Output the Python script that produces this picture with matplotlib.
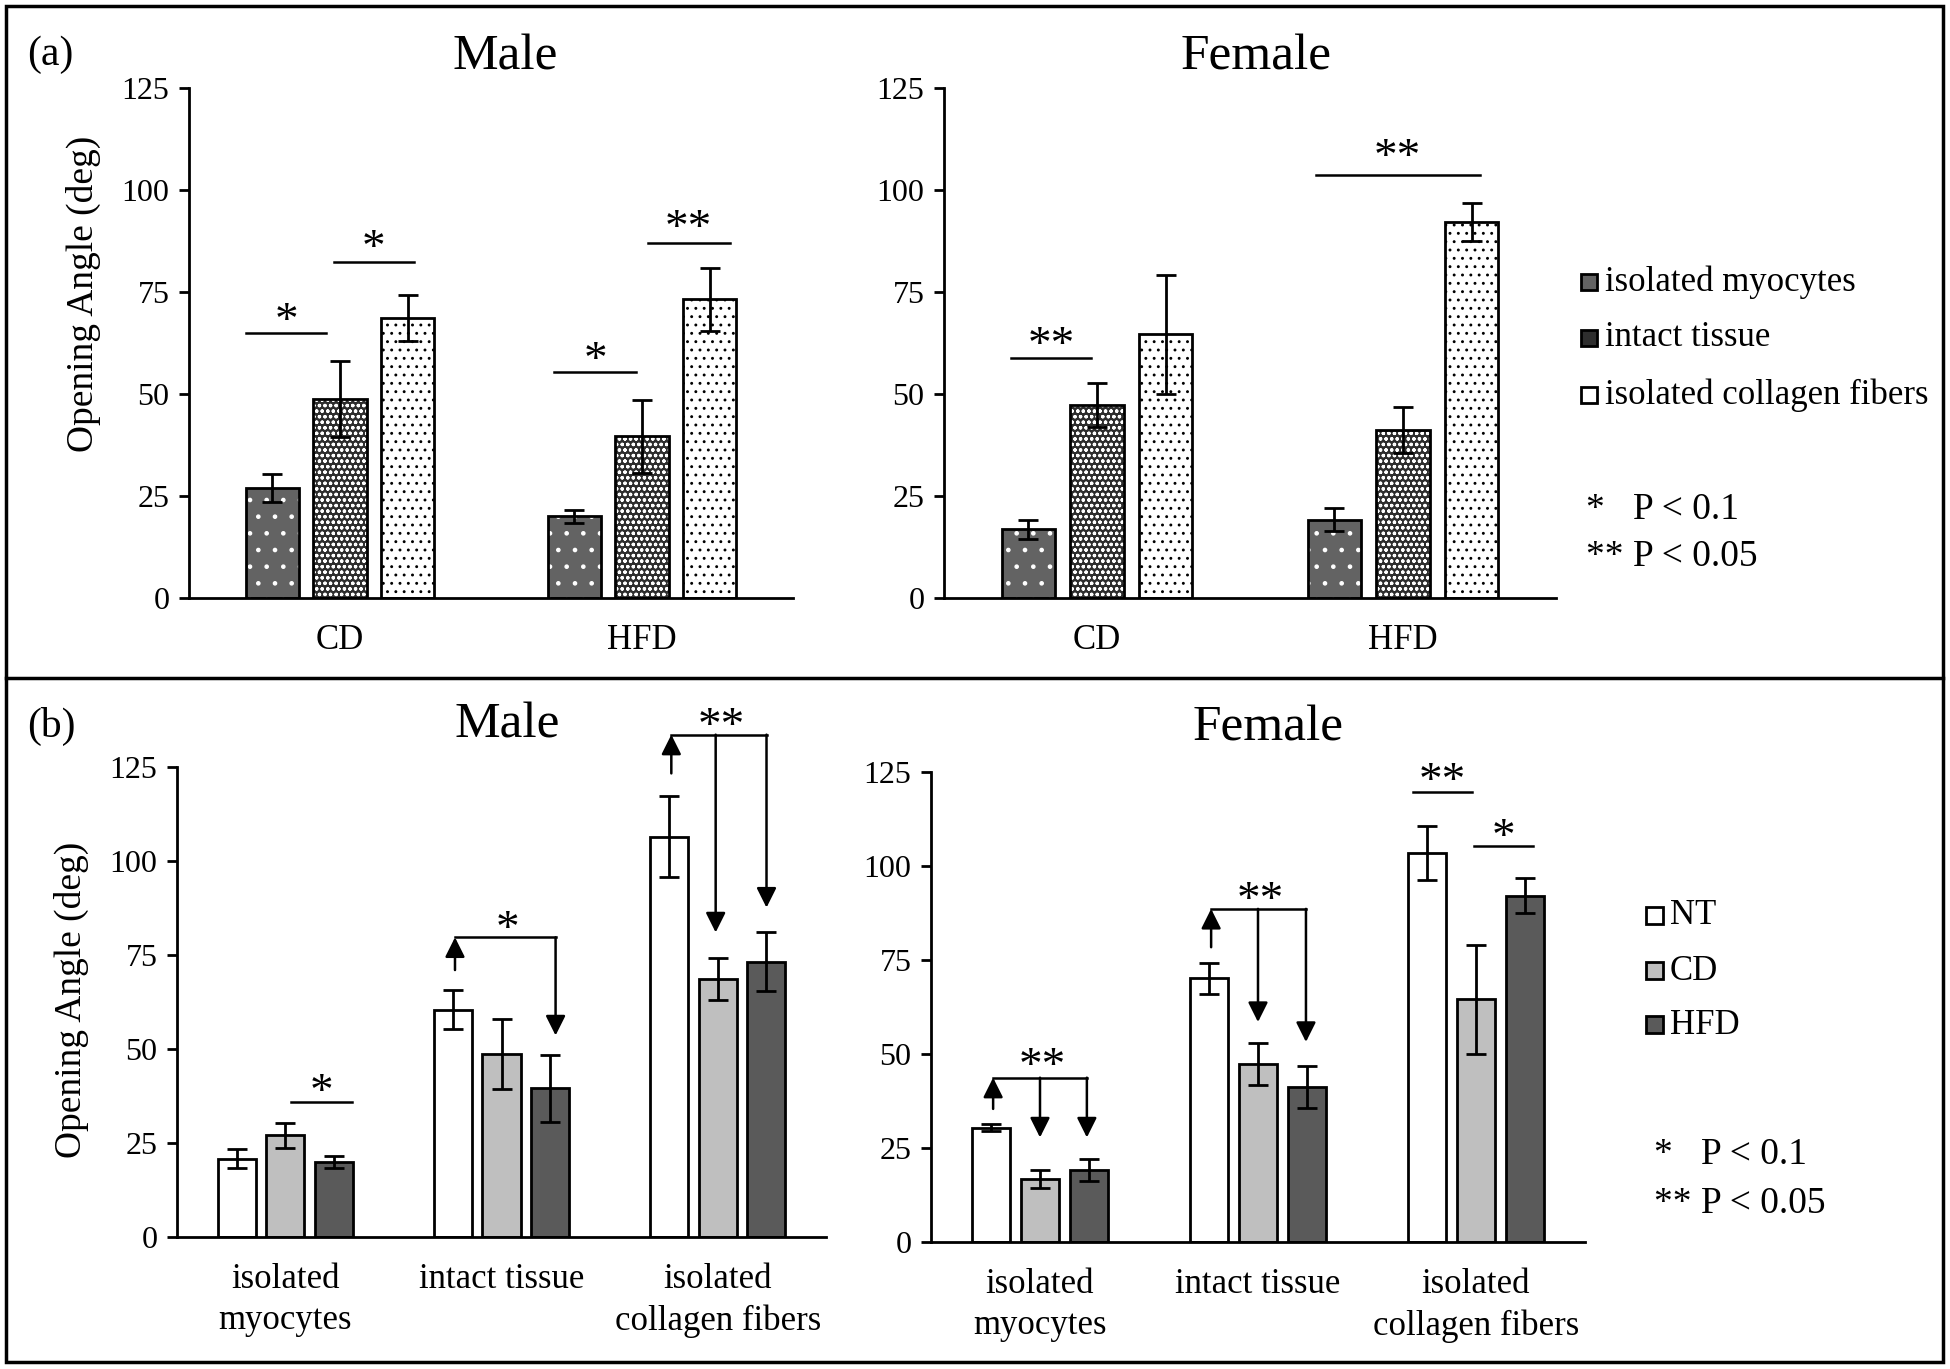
import matplotlib
matplotlib.use('Agg')
import matplotlib.pyplot as plt
from matplotlib.patches import Rectangle
from matplotlib.lines import Line2D
import numpy as np

plt.rcParams['font.family'] = ['Liberation Serif', 'DejaVu Serif']
plt.rcParams['hatch.linewidth'] = 0.9

W, H = 1950, 1369

# (a) values per diet group: CD, HFD
diets = ['CD', 'HFD']
tissue_names = ['isolated myocytes', 'intact tissue', 'isolated collagen fibers']
male_myocytes = [27.0, 20.0]
male_myocytes_err = [3.4, 1.6]
male_intact = [48.7, 39.6]
male_intact_err = [9.3, 8.9]
male_collagen = [68.6, 73.2]
male_collagen_err = [5.6, 7.8]
female_myocytes = [16.8, 19.2]
female_myocytes_err = [2.4, 2.9]
female_intact = [47.3, 41.2]
female_intact_err = [5.5, 5.6]
female_collagen = [64.6, 92.1]
female_collagen_err = [14.5, 4.6]

# (b) NT values per tissue: myocytes, intact, collagen
tissue_ticks = ['isolated\nmyocytes', 'intact tissue', 'isolated\ncollagen fibers']
groups_b = ['NT', 'CD', 'HFD']
male_nt = [20.8, 60.5, 106.5]
male_nt_err = [2.5, 5.1, 10.7]
female_nt = [30.4, 70.1, 103.5]
female_nt_err = [1.0, 4.1, 7.1]

fig = plt.figure(figsize=(W / 100, H / 100), dpi=100)


def add_axes_px(l, r, t, b):
    return fig.add_axes([l / W, 1 - b / H, (r - l) / W, (b - t) / H])


def fx(x):
    return x / W


def fy(y):
    return 1 - y / H


def style_axes(ax, n):
    ax.set_xlim(0, n)
    ax.set_ylim(0, 125)
    ax.set_yticks([0, 25, 50, 75, 100, 125])
    for s in ['top', 'right']:
        ax.spines[s].set_visible(False)
    for s in ['left', 'bottom']:
        ax.spines[s].set_linewidth(2)
    ax.tick_params(axis='y', length=7, width=2, labelsize=23, pad=7)
    ax.tick_params(axis='x', length=0, labelsize=25, pad=19)
    ax.set_xticks(np.arange(n) + 0.5)


# fill, hatch colour, hatch for each tissue in (a)
a_styles = [('#636363', 'white', '.'),
            ('#2e2e2e', 'white', 'ooo'),
            ('white', 'black', '..')]
b_colors = ['white', '#bfbfbf', '#5a5a5a']
offs = [-0.224, 0.0, 0.224]
bw = 0.176


def hatched_bar(ax, x, h, fc, hc, hatch, width=bw):
    ax.bar(x, h, width, color=fc, edgecolor='none', zorder=2)
    if hatch:
        ax.bar(x, h, width, color='none', edgecolor=hc, hatch=hatch, lw=0, zorder=3)
    ax.bar(x, h, width, color='none', edgecolor='black', lw=2, zorder=4)


def errbars(ax, x, h, e):
    ax.errorbar(x, h, yerr=e, fmt='none', ecolor='black', elinewidth=2,
                capsize=7, capthick=2, zorder=5)


def star(ax, x, y, label):
    ax.annotate(label, (x, y), xytext=(0, -7), textcoords='offset points',
                ha='center', va='center', fontsize=34, annotation_clip=False)


def sig_line(ax, x1, x2, y, label, ly):
    ax.plot([x1, x2], [y, y], color='black', lw=1.8, clip_on=False)
    star(ax, (x1 + x2) / 2, ly, label)


def arrow(ax, x, y0, y1):
    ax.annotate('', xy=(x, y1), xytext=(x, y0), annotation_clip=False,
                arrowprops=dict(arrowstyle='-|>', color='black', lw=1.8,
                                mutation_scale=30, shrinkA=0, shrinkB=0))


def sig_bracket(ax, g, up_from, y, down_to, label, ly, down_x):
    xu = g - 0.215
    arrow(ax, xu, up_from, y)
    xs = [g + d for d in down_x]
    ax.plot([xu, max(xs)], [y, y], color='black', lw=1.8, clip_on=False)
    for xd, yd in zip(xs, down_to):
        arrow(ax, xd, y, yd)
    star(ax, (xu + max(xs)) / 2 + 0.01, ly, label)


def panel_a(ax, means, errs):
    x = np.arange(len(diets)) + 0.5
    for i in range(3):
        fc, hc, hatch = a_styles[i]
        hatched_bar(ax, x + offs[i], means[i], fc, hc, hatch)
        errbars(ax, x + offs[i], means[i], errs[i])
    style_axes(ax, 2)
    ax.set_xticklabels(diets)


def panel_b(ax, nt, nt_err, cd, cd_err, hfd, hfd_err):
    x = np.arange(3) + 0.5
    for i, (m, e) in enumerate([(nt, nt_err), (cd, cd_err), (hfd, hfd_err)]):
        hatched_bar(ax, x + offs[i], m, b_colors[i], None, None)
        errbars(ax, x + offs[i], m, e)
    style_axes(ax, 3)
    ax.set_xticklabels(tissue_ticks, linespacing=1.3)


# ---- (a) ----
ax1 = add_axes_px(189, 793, 88, 598)
panel_a(ax1, [male_myocytes, male_intact, male_collagen],
        [male_myocytes_err, male_intact_err, male_collagen_err])
sig_line(ax1, 0.5 - 0.31, 0.5 - 0.045, 64.9, '*', 69.8)
sig_line(ax1, 0.5 - 0.02, 0.5 + 0.245, 82.3, '*', 87.8)
sig_line(ax1, 1.5 - 0.29, 1.5 - 0.02, 55.5, '*', 60.4)
sig_line(ax1, 1.5 + 0.02, 1.5 + 0.29, 86.9, '**', 92.7)

ax2 = add_axes_px(944, 1556, 88, 598)
panel_a(ax2, [female_myocytes, female_intact, female_collagen],
        [female_myocytes_err, female_intact_err, female_collagen_err])
sig_line(ax2, 0.5 - 0.28, 0.5 - 0.02, 58.8, '**', 64.0)
sig_line(ax2, 1.5 - 0.285, 1.5 + 0.25, 103.7, '**', 110.0)

# ---- (b) ----
ax3 = add_axes_px(177, 826, 767, 1237)
panel_b(ax3, male_nt, male_nt_err,
        [male_myocytes[0], male_intact[0], male_collagen[0]],
        [male_myocytes_err[0], male_intact_err[0], male_collagen_err[0]],
        [male_myocytes[1], male_intact[1], male_collagen[1]],
        [male_myocytes_err[1], male_intact_err[1], male_collagen_err[1]])
sig_line(ax3, 0.5 + 0.025, 0.5 + 0.31, 36.0, '*', 40.7)
sig_bracket(ax3, 1.5, 71.0, 79.7, [53.6], '*', 84.0, [0.25])
sig_bracket(ax3, 2.5, 123.3, 133.6, [81.0, 87.6], '**', 138.0, [-0.01, 0.225])

ax4 = add_axes_px(931, 1585, 772, 1242)
panel_b(ax4, female_nt, female_nt_err,
        [female_myocytes[0], female_intact[0], female_collagen[0]],
        [female_myocytes_err[0], female_intact_err[0], female_collagen_err[0]],
        [female_myocytes[1], female_intact[1], female_collagen[1]],
        [female_myocytes_err[1], female_intact_err[1], female_collagen_err[1]])
sig_bracket(ax4, 0.5, 35.4, 43.7, [27.8, 27.8], '**', 49.0, [0.0, 0.215])
sig_bracket(ax4, 1.5, 78.4, 88.6, [58.5, 53.2], '**', 93.0, [0.0, 0.22])
sig_line(ax4, 2.5 - 0.29, 2.5 - 0.02, 119.7, '**', 124.7)
sig_line(ax4, 2.5 - 0.01, 2.5 + 0.26, 105.2, '*', 109.8)

# ---- titles, labels ----
for x, y, t in [(505, 57, 'Male'), (1256, 57, 'Female'),
                (507, 725, 'Male'), (1268, 728, 'Female')]:
    fig.text(fx(x), fy(y), t, fontsize=37, ha='center', va='center')
fig.text(fx(27), fy(55), '(a)', fontsize=30, ha='left', va='center')
fig.text(fx(27), fy(726), '(b)', fontsize=30, ha='left', va='center')
fig.text(fx(83), fy(294), 'Opening Angle (deg)', fontsize=27, rotation=90,
         ha='center', va='center')
fig.text(fx(71), fy(1000), 'Opening Angle (deg)', fontsize=27, rotation=90,
         ha='center', va='center')

# ---- legends ----
for i, (y, name) in enumerate(zip([282, 338, 395], tissue_names)):
    fc, hc, hatch = a_styles[i]
    fig.patches.append(Rectangle((fx(1581), fy(y + 8)), 16 / W, 16 / H,
                                 transform=fig.transFigure, facecolor=fc,
                                 edgecolor='black', lw=2))
    fig.text(fx(1605), fy(y), name, fontsize=25, ha='left', va='center')
for i, (y, name) in enumerate(zip([916, 971, 1025], groups_b)):
    fig.patches.append(Rectangle((fx(1646), fy(y + 8)), 17 / W, 17 / H,
                                 transform=fig.transFigure,
                                 facecolor=b_colors[i], edgecolor='black', lw=2))
    fig.text(fx(1670), fy(y), name, fontsize=25, ha='left', va='center')

for x, ys in [(1586, (510, 557)), (1654, (1155, 1204))]:
    fig.text(fx(x), fy(ys[0]), '*   P < 0.1', fontsize=27, ha='left', va='center')
    fig.text(fx(x), fy(ys[1]), '** P < 0.05', fontsize=27, ha='left', va='center')

# ---- frame ----
fig.patches.append(Rectangle((fx(6), fy(1362)), (1943 - 6) / W, (1362 - 6) / H,
                             transform=fig.transFigure, fill=False,
                             edgecolor='black', lw=2.5))
fig.lines.append(Line2D([fx(6), fx(1943)], [fy(678), fy(678)],
                        transform=fig.transFigure, color='black', lw=2.5))

fig.savefig('out.png', dpi=100)
